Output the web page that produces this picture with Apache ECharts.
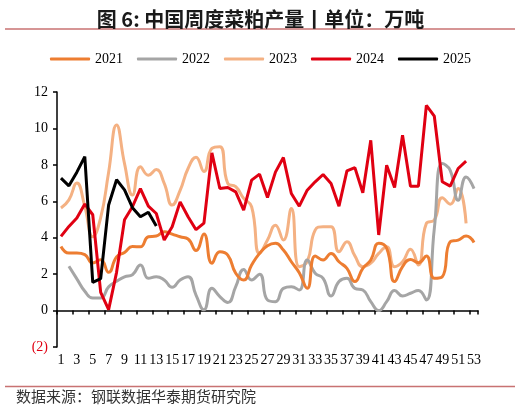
<!DOCTYPE html>
<html>
<head>
<meta charset="utf-8">
<script src="https://cdn.jsdelivr.net/npm/echarts@6/dist/echarts.min.js"></script>
<style>
html,body{margin:0;padding:0;background:#fff;}
#c{width:521px;height:411px;}
</style>
</head>
<body>
<div id="c"></div>
<script>
const weeks = Array.from({length:53},(_,i)=>String(i+1));
const yearNames = ['2021','2022','2023','2024','2025'];
const s2021 = [3.52,3.16,3.16,3.07,2.61,2.79,2.1,2.95,3.19,3.52,3.5,4.05,4.09,4.33,4.2,4.05,3.93,3.3,4.2,2.6,3.23,3.05,2.05,1.68,2.5,3.14,3.56,3.69,3.32,2.68,2.08,1.22,3.0,2.78,3.14,2.68,2.32,1.59,2.32,2.78,3.69,3.42,1.59,2.41,2.81,2.63,3.0,1.77,1.86,3.78,3.87,4.09,3.74];
const s2022 = [null,2.43,1.74,1.06,0.69,0.69,1.3,1.61,1.85,1.97,2.5,1.77,1.86,1.68,1.28,1.68,1.86,0.85,0.04,1.22,0.77,0.44,1.31,2.26,1.68,2.0,0.58,0.49,1.22,1.31,1.13,2.78,2.05,1.77,0.8,1.59,1.77,1.22,1.13,0.49,0.0,0.49,1.1,0.8,0.95,1.1,0.58,4.5,8.07,7.7,6.06,7.34,6.7];
const s2023 = [5.63,6.08,7.0,5.72,4.05,5.1,7.6,10.19,8.07,6.34,7.9,7.43,7.74,6.98,5.79,6.6,7.8,8.42,7.64,8.9,9.0,6.98,6.8,6.16,5.7,3.14,3.87,4.69,3.87,5.6,2.41,2.68,4.42,4.6,4.6,3.23,3.78,3.0,2.41,2.6,3.14,3.5,2.41,2.68,3.36,2.5,4.79,4.97,6.2,5.84,6.7,4.79,null];
const s2024 = [4.07,4.62,5.08,5.85,5.26,1.0,0.05,2.1,4.99,5.7,6.7,5.73,5.33,3.87,4.6,5.97,5.15,4.44,4.8,8.66,6.7,6.76,6.52,5.52,7.16,7.49,6.21,7.6,8.4,6.43,5.73,6.61,7.07,7.47,6.98,5.73,7.67,7.85,6.47,9.35,4.15,7.98,6.76,9.63,6.83,6.83,11.27,10.67,7.07,6.83,7.8,8.2,null];
const s2025 = [7.27,6.85,7.6,8.45,1.55,1.75,5.8,7.18,6.63,5.65,5.15,5.4,4.64];
const yMin = -2, yMax = 12, yStep = 2;

const colors = ['#ED7D31','#A5A5A5','#F4B183','#E00012','#000000'];
const seriesData = [s2021,s2022,s2023,s2024,s2025];
const smoothFlags = [true,true,true,false,false];

const chart = echarts.init(document.getElementById('c'));
const serif = '"Liberation Serif","Times New Roman",serif';
const cjk = '"Noto Sans CJK SC","Noto Sans",sans-serif';

chart.setOption({
  animation:false,
  backgroundColor:'#fff',
  title:{
    text:'图 6: 中国周度菜粕产量丨单位：万吨',
    left:'center', top:4,
    textStyle:{fontFamily:cjk,fontWeight:'bold',fontSize:20,color:'#1a1a1a'}
  },
  legend:{
    top:47, left:'center',
    itemWidth:40, itemHeight:3, itemGap:14,
    icon:'roundRect',
    textStyle:{fontFamily:serif,fontSize:14,color:'#000'},
    data:yearNames
  },
  grid:{left:57,right:43,top:92,bottom:64,containLabel:false},
  xAxis:{
    type:'category',
    data:weeks,
    boundaryGap:true,
    axisLine:{onZero:true,lineStyle:{color:'#000',width:1.5}},
    axisTick:{show:true,interval:1,length:4,inside:false,lineStyle:{color:'#000',width:1.5}},
    axisLabel:{interval:0,formatter:(v,i)=> (i%2===0? v : ''),fontFamily:serif,fontSize:14,color:'#000',margin:6},
    splitLine:{show:false}
  },
  yAxis:{
    type:'value',
    min:yMin,max:yMax,interval:yStep,
    axisLine:{show:true,lineStyle:{color:'#000',width:1.5}},
    axisTick:{show:true,length:4,lineStyle:{color:'#000',width:1.5}},
    axisLabel:{
      fontFamily:serif,fontSize:14,margin:9,
      formatter:v=> v<0 ? '('+Math.abs(v)+')' : String(v),
      color:v=> (Number(v)<0 ? '#E00012' : '#000')
    },
    splitLine:{show:false}
  },
  series: yearNames.map((n,k)=>({
    name:n,
    type:'line',
    data:seriesData[k],
    smooth:smoothFlags[k],
    showSymbol:false,
    symbol:'none',
    connectNulls:false,
    z: k===4?10:(k===3?8:5-k),
    lineStyle:{color:colors[k],width:3},
    itemStyle:{color:colors[k]}
  })),
  graphic:[
    {type:'line',shape:{x1:5,y1:29,x2:515,y2:29},style:{stroke:'#C87272',lineWidth:1.5},silent:true},
    {type:'line',shape:{x1:5,y1:386.5,x2:515,y2:386.5},style:{stroke:'#C87272',lineWidth:1.5},silent:true},
    {type:'text',left:16,top:389,style:{text:'数据来源：钢联数据华泰期货研究院',fontFamily:cjk,fontSize:15,fill:'#333'},silent:true}
  ]
});
</script>
</body>
</html>
